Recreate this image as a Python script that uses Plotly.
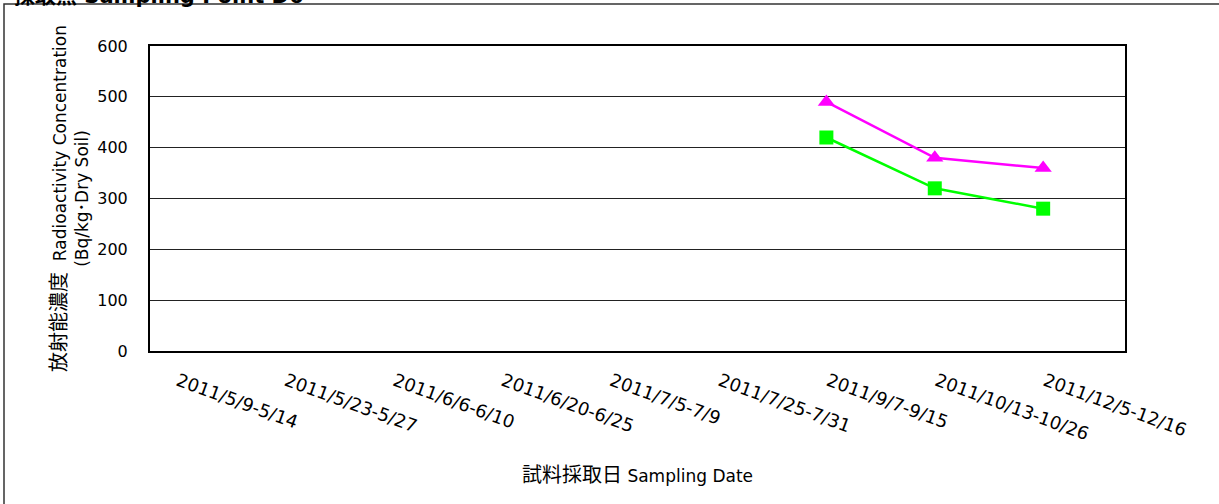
import plotly.graph_objects as go

categories = ["2011/5/9-5/14", "2011/5/23-5/27", "2011/6/6-6/10", "2011/6/20-6/25",
              "2011/7/5-7/9", "2011/7/25-7/31", "2011/9/7-9/15", "2011/10/13-10/26",
              "2011/12/5-12/16"]
cs137 = [None, None, None, None, None, None, 490, 380, 360]
cs134 = [None, None, None, None, None, None, 420, 320, 280]
y_ticks = [0, 100, 200, 300, 400, 500, 600]

idx = list(range(len(categories)))
FONT = "DejaVu Sans, Noto Sans CJK JP, sans-serif"
JP = '<span style="font-size:20px">{}</span>'

W, H = 1219, 504
L, R, T, B = 150, 1125, 46, 351

fig = go.Figure()
fig.add_trace(go.Scatter(x=idx, y=cs137, mode="lines+markers", name="Cs-137",
                         line=dict(color="#FF00FF", width=2.5),
                         marker=dict(symbol="triangle-up", size=15, color="#FF00FF")))
fig.add_trace(go.Scatter(x=idx, y=cs134, mode="lines+markers", name="Cs-134",
                         line=dict(color="#00FF00", width=2.5),
                         marker=dict(symbol="square", size=14, color="#00FF00")))

def px(x):
    return (x - L) / (R - L)

def py(y):
    return (B - y) / (B - T)

fig.update_layout(
    width=W, height=H,
    margin=dict(l=L, r=W - R, t=T, b=H - B, pad=0),
    paper_bgcolor="white", plot_bgcolor="white",
    showlegend=False,
    font=dict(family=FONT, size=16, color="black"),
    xaxis=dict(
        range=[-0.24, 8.755], tickmode="array", tickvals=idx, ticktext=categories,
        tickangle=20, showgrid=False, zeroline=False, ticks="",
        showline=True, linecolor="black", linewidth=2, mirror=True,
        tickfont=dict(size=18), ticklabelstandoff=11, ticklabelshift=2,
    ),
    yaxis=dict(
        range=[0, 600], tickmode="array", tickvals=y_ticks, ticks="",
        showgrid=True, gridcolor="#222222", gridwidth=1, zeroline=False,
        showline=True, linecolor="black", linewidth=2, mirror=True,
        ticklabelstandoff=17, tickfont=dict(size=16),
        title=dict(text=JP.format("放射能濃度") + "  Radioactivity Concentration<br>(Bq/kg･Dry Soil)",
                   font=dict(size=17), standoff=4),
    ),
    annotations=[
        dict(text=JP.format("試料採取日") + " Sampling Date", xref="paper", yref="paper",
             x=px(637), y=py(475), xanchor="center", yanchor="middle",
             showarrow=False, font=dict(size=17)),
        dict(text="<b>採取点 Sampling Point D6</b>", xref="paper", yref="paper",
             x=px(12), y=py(10), xanchor="left", yanchor="bottom",
             showarrow=False, font=dict(size=21)),
    ],
    shapes=[
        dict(type="rect", xref="paper", yref="paper",
             x0=px(4), x1=px(1260), y0=py(540), y1=py(4),
             line=dict(color="#333333", width=1.5), fillcolor="rgba(0,0,0,0)",
             layer="below"),
    ],
)

fig.write_html("out.html", config={"displayModeBar": False},
               post_script="document.body.style.margin='0';")
